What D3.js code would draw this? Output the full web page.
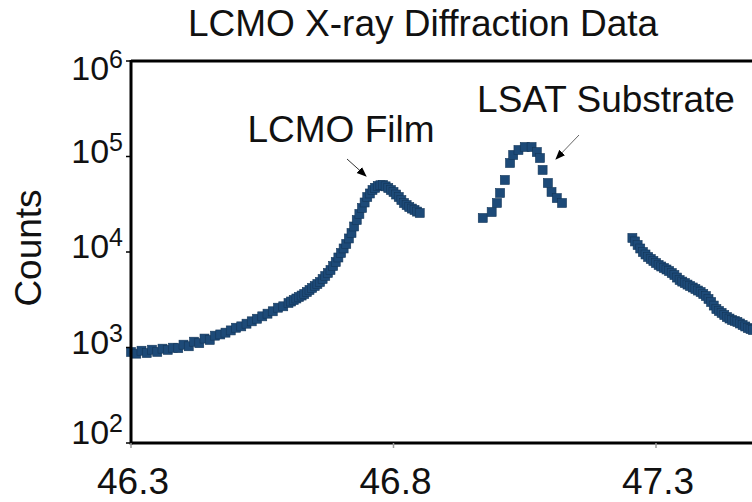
<!DOCTYPE html>
<html>
<head>
<meta charset="utf-8">
<script src="https://cdn.jsdelivr.net/npm/d3@7"></script>
<style>
  body { margin: 0; background: #fff; }
  svg { display: block; font-family: "Liberation Sans", Arial, sans-serif; }
</style>
</head>
<body>
<div id="chart"></div>
<script>
// film peak segment (2theta, counts)
const filmAngle = [46.30, 46.31, 46.32, 46.33, 46.34, 46.35, 46.36, 46.37, 46.38, 46.39,
    46.40, 46.41, 46.42, 46.43, 46.44, 46.45, 46.46, 46.47, 46.48, 46.49,
    46.50, 46.51, 46.52, 46.53, 46.54, 46.55, 46.56, 46.57, 46.58, 46.59,
    46.600, 46.605, 46.610, 46.615, 46.620, 46.625, 46.630, 46.635, 46.640, 46.645,
    46.650, 46.655, 46.660, 46.665, 46.670, 46.675, 46.680, 46.685, 46.690, 46.695,
    46.700, 46.705, 46.710, 46.715, 46.720, 46.725, 46.730, 46.735, 46.740, 46.745,
    46.750, 46.755, 46.760, 46.765, 46.770, 46.775, 46.780, 46.785, 46.790, 46.795,
    46.800, 46.805, 46.810, 46.815, 46.820, 46.825, 46.830, 46.835, 46.840, 46.845,
    46.850];
const filmCounts = [897, 862, 925, 875, 948, 900, 972, 945, 995, 985,
    1070, 1030, 1150, 1110, 1240, 1200, 1330, 1370, 1430, 1510,
    1610, 1665, 1775, 1880, 2000, 2120, 2260, 2395, 2610, 2700,
    2925, 3030, 3143, 3260, 3379, 3500, 3632, 3810, 4000, 4200,
    4405, 4620, 4851, 5210, 5605, 6030, 6478, 7130, 7857, 8760,
    9770, 10890, 12140, 13860, 15820, 18500, 21640, 25000, 28890, 33000,
    37670, 41000, 44560, 47000, 49090, 50000, 50350, 48700, 46800, 44600,
    42490, 40000, 37670, 35000, 32590, 31000, 29580, 28500, 27530, 26500,
    25620];

// substrate peak segment
const subAngle = [46.970, 46.987, 46.997, 47.003, 47.012, 47.022, 47.028, 47.038, 47.050,
    47.063, 47.073, 47.079, 47.084, 47.094, 47.101, 47.111, 47.121];
const subCounts = [22700, 26200, 32600, 41500, 56800, 85500, 103800, 117000, 125700,
    125700, 111400, 96400, 72300, 52800, 42500, 36700, 32600];

// high-angle tail
const tailAngle = [47.255, 47.260, 47.265, 47.270, 47.275, 47.280, 47.285, 47.290, 47.295, 47.300,
    47.305, 47.310, 47.315, 47.320, 47.325, 47.330, 47.335, 47.340, 47.345, 47.350,
    47.355, 47.360, 47.365, 47.370, 47.375, 47.380, 47.385, 47.390, 47.395, 47.400,
    47.405, 47.410, 47.415, 47.420, 47.425, 47.430, 47.435, 47.440, 47.445, 47.450,
    47.455, 47.460, 47.465, 47.470, 47.475, 47.480, 47.485];
const tailCounts = [14030, 12900, 11840, 10880, 10000, 9420, 8870, 8450, 8050, 7670,
    7310, 7050, 6800, 6560, 6320, 6020, 5740, 5400, 5090, 4900,
    4730, 4560, 4400, 4250, 4100, 3950, 3810, 3630, 3460, 3220,
    2995, 2750, 2530, 2410, 2300, 2190, 2085, 2010, 1940, 1895,
    1850, 1785, 1720, 1660, 1600, 1560, 1525];

const xTicks = [46.3, 46.8, 47.3];
const yTicks = [1e2, 1e3, 1e4, 1e5, 1e6];
const yExp = ["2", "3", "4", "5", "6"];

const width = 752, height = 502;
const svg = d3.select("#chart").append("svg")
    .attr("width", width)
    .attr("height", height);

const x = d3.scaleLinear().domain([46.3, 47.3]).range([131, 656]);
const y = d3.scaleLog().domain([1e2, 1e6]).range([443, 61]);

// data
const points = [];
filmAngle.forEach((a, i) => points.push([a, filmCounts[i]]));
subAngle.forEach((a, i) => points.push([a, subCounts[i]]));
tailAngle.forEach((a, i) => points.push([a, tailCounts[i]]));

const s = 9;
svg.append("g")
    .selectAll("rect")
    .data(points)
    .enter().append("rect")
    .attr("x", d => x(d[0]) - s / 2)
    .attr("y", d => y(d[1]) - s / 2)
    .attr("width", s)
    .attr("height", s)
    .attr("fill", "#1d4a78")
    .attr("stroke", "#14375a")
    .attr("stroke-width", 0.6);

// frame
svg.append("line").attr("x1", 131).attr("x2", width).attr("y1", 61).attr("y2", 61)
    .attr("stroke", "#000").attr("stroke-width", 3);
svg.append("line").attr("x1", 131).attr("x2", width).attr("y1", 443).attr("y2", 443)
    .attr("stroke", "#000").attr("stroke-width", 3);
svg.append("line").attr("x1", 131).attr("x2", 131).attr("y1", 60).attr("y2", 444.5)
    .attr("stroke", "#000").attr("stroke-width", 3);

// y ticks
svg.append("g").selectAll("line")
    .data(yTicks)
    .enter().append("line")
    .attr("x1", 126).attr("x2", 131)
    .attr("y1", d => y(d)).attr("y2", d => y(d))
    .attr("stroke", "#000").attr("stroke-width", 1.5);

const yl = svg.append("g").selectAll("text")
    .data(yTicks)
    .enter().append("text")
    .attr("x", 123)
    .attr("y", (d, i) => y(d) + (i === 4 ? 19 : i === 0 ? 1 : 6))
    .attr("text-anchor", "end")
    .attr("font-size", 34)
    .attr("fill", "#111");
yl.append("tspan").text("10");
yl.append("tspan").attr("dy", -12).attr("font-size", 25).text((d, i) => yExp[i]);

// x ticks
svg.append("g").selectAll("line")
    .data(xTicks)
    .enter().append("line")
    .attr("x1", d => x(d)).attr("x2", d => x(d))
    .attr("y1", 443).attr("y2", 448)
    .attr("stroke", "#999").attr("stroke-width", 1.5);

svg.append("g").selectAll("text")
    .data(xTicks)
    .enter().append("text")
    .attr("x", d => x(d) + 2)
    .attr("y", 494)
    .attr("text-anchor", "middle")
    .attr("font-size", 37)
    .attr("fill", "#111")
    .text(d => d.toFixed(1));

// titles
svg.append("text")
    .attr("x", 423).attr("y", 36)
    .attr("text-anchor", "middle")
    .attr("font-size", 37)
    .attr("fill", "#111")
    .text("LCMO X-ray Diffraction Data");

svg.append("text")
    .attr("transform", "translate(41,248) rotate(-90)")
    .attr("text-anchor", "middle")
    .attr("font-size", 37)
    .attr("fill", "#111")
    .text("Counts");

// annotations
svg.append("defs").append("marker")
    .attr("id", "ah")
    .attr("viewBox", "0 0 10 10")
    .attr("refX", 9).attr("refY", 5)
    .attr("markerWidth", 10).attr("markerHeight", 10)
    .attr("markerUnits", "userSpaceOnUse")
    .attr("orient", "auto")
    .append("path").attr("d", "M0,1L10,5L0,9Z").attr("fill", "#000");

svg.append("text")
    .attr("x", 341).attr("y", 142)
    .attr("text-anchor", "middle")
    .attr("font-size", 37)
    .attr("fill", "#111")
    .text("LCMO Film");
svg.append("line")
    .attr("x1", 347).attr("y1", 159).attr("x2", 366).attr("y2", 176)
    .attr("stroke", "#333").attr("stroke-width", 1)
    .attr("marker-end", "url(#ah)");

svg.append("text")
    .attr("x", 606).attr("y", 112)
    .attr("text-anchor", "middle")
    .attr("font-size", 37)
    .attr("fill", "#111")
    .text("LSAT Substrate");
svg.append("line")
    .attr("x1", 579).attr("y1", 135).attr("x2", 556).attr("y2", 159)
    .attr("stroke", "#666").attr("stroke-width", 1)
    .attr("marker-end", "url(#ah)");
</script>
</body>
</html>
